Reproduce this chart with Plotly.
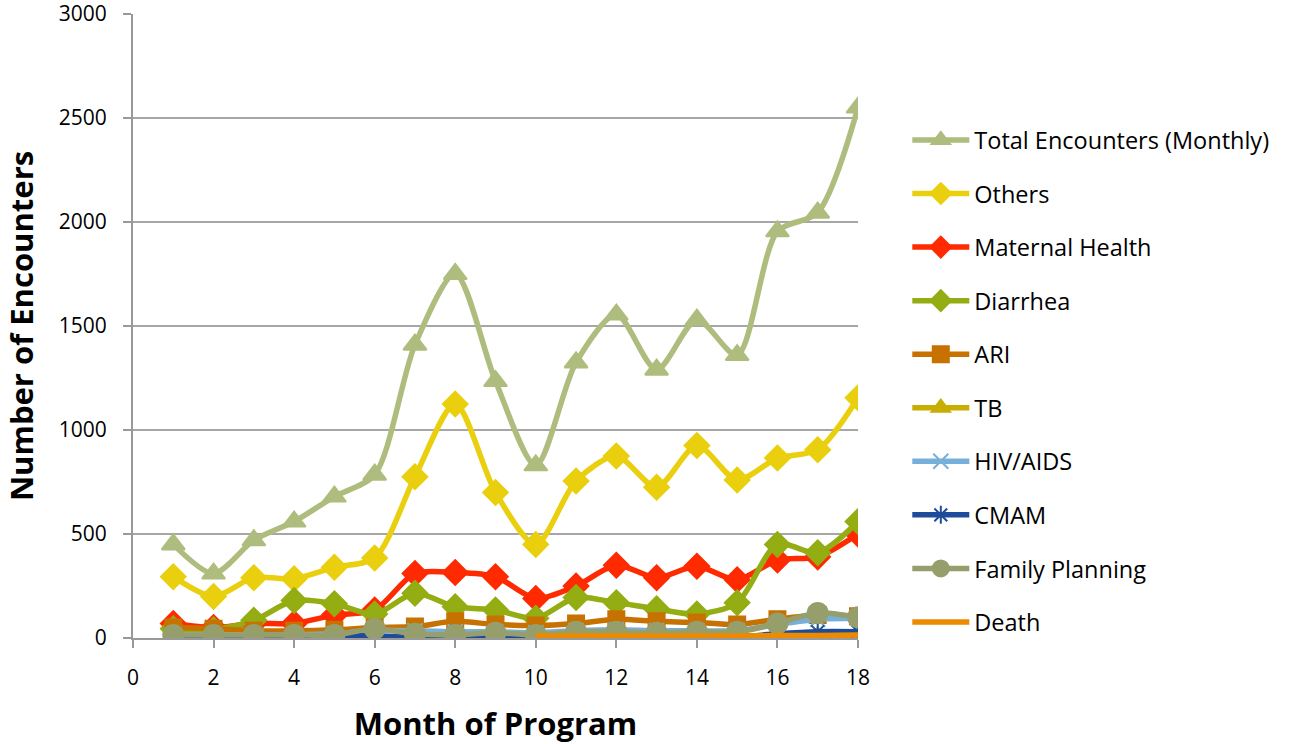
import plotly.graph_objects as go

months = list(range(1, 19))

total = [450, 310, 470, 560, 680, 785, 1410, 1750, 1235, 830, 1325, 1555, 1290, 1530, 1360, 1955, 2045, 2550]
others = [295, 200, 290, 285, 340, 385, 775, 1125, 700, 450, 755, 875, 725, 925, 760, 865, 905, 1155]
maternal = [70, 50, 70, 70, 110, 135, 310, 315, 295, 190, 250, 350, 290, 345, 280, 375, 390, 500]
diarrhea = [45, 40, 85, 180, 165, 115, 215, 150, 135, 95, 195, 170, 140, 115, 170, 450, 410, 560]
ari = [50, 45, 35, 35, 40, 50, 55, 80, 65, 60, 70, 90, 80, 75, 65, 90, 110, 105]
tb = [5, 5, 5, 5, 5, 5, 5, 5, 5, 5, 5, 5, 5, 5, 5, 5, 10, 10]
hiv = [15, 15, 15, 15, 20, 35, 35, 30, 30, 25, 35, 40, 35, 35, 35, 65, 90, 95]
cmam = [10, 10, 10, 10, 10, 10, 5, 5, 5, 5, 5, 5, 5, 5, 5, 20, 30, 30]
family = [15, 15, 15, 15, 15, 45, 20, 15, 25, 15, 30, 30, 25, 30, 30, 70, 120, 100]
death = [None, None, None, None, None, None, None, 5, None, 10, 10, 10, 10, 10, 10, 12, 12, 15]

series = [
    ("Total Encounters (Monthly)", total, "#AEBC7E", "triangle-up", 20),
    ("Others", others, "#EACF0E", "diamond", 19),
    ("Maternal Health", maternal, "#FF2A00", "diamond", 19),
    ("Diarrhea", diarrhea, "#93AD12", "diamond", 19),
    ("ARI", ari, "#C77200", "square", 16),
    ("TB", tb, "#C8AE00", "triangle-up", 17),
    ("HIV/AIDS", hiv, "#76B0DA", "x-thin", 15),
    ("CMAM", cmam, "#1F4C9A", "asterisk", 15),
    ("Family Planning", family, "#969F6C", "circle", 20),
    ("Death", death, "#EC8A00", None, 0),
]

fig = go.Figure()
for name, vals, color, sym, size in series:
    if sym is None:
        fig.add_trace(go.Scatter(
            x=months, y=vals, name=name, mode="lines", legendgroup=name,
            line=dict(color=color, width=5.5, shape="spline", smoothing=0.8),
        ))
    else:
        fig.add_trace(go.Scatter(
            x=months, y=vals, name=name, mode="lines+markers", legendgroup=name,
            line=dict(color=color, width=5.5, shape="spline", smoothing=0.8),
            marker=dict(symbol=sym, size=size, color=color,
                        line=dict(color=color, width=2)),
        ))

fig.update_layout(
    width=1291, height=744,
    margin=dict(l=133, r=433, t=14, b=106, autoexpand=False),
    paper_bgcolor="white", plot_bgcolor="white",
    font=dict(family="Open Sans, Liberation Sans, sans-serif", size=21, color="black"),
    showlegend=True,
    legend=dict(x=1.068, y=0.833, xanchor="left", yanchor="top",
                font=dict(size=23.5), tracegroupgap=20, itemwidth=57,
                bgcolor="rgba(0,0,0,0)"),
    xaxis=dict(
        range=[0, 18], tickmode="linear", tick0=0, dtick=2, automargin=False,
        showgrid=False, showline=True, linecolor="#999999", linewidth=2,
        ticks="outside", tickcolor="#999999", ticklen=8, tickwidth=2,
        ticklabelstandoff=12,
        title=dict(text="<b>Month of Program</b>", font=dict(size=31), standoff=24),
        zeroline=False,
    ),
    yaxis=dict(
        range=[0, 3000], tickmode="linear", tick0=0, dtick=500, automargin=False,
        showgrid=True, gridcolor="#A6A6A6", gridwidth=2,
        showline=True, linecolor="#999999", linewidth=2,
        ticks="outside", tickcolor="#999999", ticklen=8, tickwidth=2,
        ticklabelstandoff=12, ticklabeloverflow="allow",
        title=dict(text="<b>Number of Encounters</b>", font=dict(size=31), standoff=22),
        zeroline=False,
    ),
)

fig.write_html("out.html", config={"displayModeBar": False},
               post_script="document.body.style.margin='0';")
